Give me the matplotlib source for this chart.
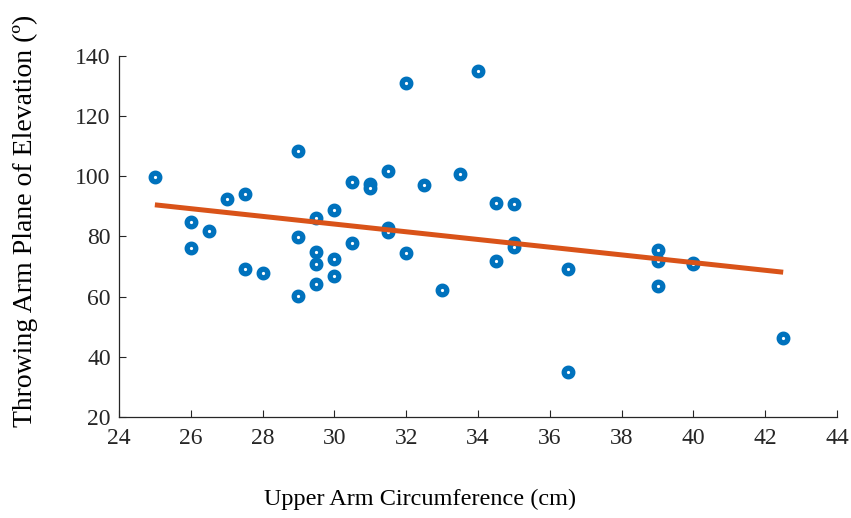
import numpy as np
import matplotlib
matplotlib.use("Agg")
import matplotlib.pyplot as plt

# Upper arm circumference (cm) and throwing-arm plane of elevation (deg)
circumference = [25.0, 26.0, 26.0, 26.5, 27.0, 27.5, 27.5, 28.0,
                 29.0, 29.0, 29.0, 29.5, 29.5, 29.5, 29.5,
                 30.0, 30.0, 30.0, 30.5, 30.5, 31.0, 31.0,
                 31.5, 31.5, 31.5, 32.0, 32.0, 32.5, 33.0, 33.5,
                 34.0, 34.5, 34.5, 35.0, 35.0, 35.0, 36.5, 36.5,
                 39.0, 39.0, 39.0, 40.0, 40.0, 42.5]
elevation = [99.6, 84.7, 76.1, 81.8, 92.4, 94.1, 69.3, 67.8,
             108.5, 79.9, 60.3, 86.3, 75.0, 70.9, 64.2,
             88.8, 72.4, 67.0, 98.2, 77.7, 97.4, 96.2,
             101.9, 82.8, 81.5, 130.9, 74.4, 97.1, 62.2, 100.8,
             135.1, 91.0, 71.9, 90.7, 77.8, 76.6, 69.1, 34.9,
             75.5, 71.9, 63.6, 71.3, 70.9, 46.2]

x_ticks = [24, 26, 28, 30, 32, 34, 36, 38, 40, 42, 44]
y_ticks = [20, 40, 60, 80, 100, 120, 140]

plt.rcParams["font.family"] = ["Liberation Serif", "DejaVu Serif"]

fig = plt.figure(figsize=(8.51, 5.18), dpi=100)
ax = fig.add_axes([0.1398, 0.195, 0.8438, 0.697])

axis_grey = "#262626"

x = np.asarray(circumference)
y = np.asarray(elevation)

ax.plot(x, y, linestyle="none", marker="o", markersize=6.2,
        markeredgewidth=3.8, markeredgecolor="#0072BD",
        markerfacecolor="white", zorder=2)

# least-squares trend line across the observed range
slope, intercept = np.polyfit(x, y, 1)
xf = np.array([x.min(), x.max()])
ax.plot(xf, slope * xf + intercept, color="#D95319", linewidth=3.6,
        solid_capstyle="butt", zorder=3)

ax.set_xlim(x_ticks[0], x_ticks[-1])
ax.set_ylim(y_ticks[0], y_ticks[-1])
ax.set_xticks(x_ticks)
ax.set_yticks(y_ticks)

for side in ("top", "right"):
    ax.spines[side].set_visible(False)
for side in ("left", "bottom"):
    ax.spines[side].set_color(axis_grey)
    ax.spines[side].set_linewidth(0.9)

ax.tick_params(direction="in", length=5, width=0.8, colors=axis_grey,
               labelsize=17, labelcolor=axis_grey)
ax.tick_params(axis="x", pad=8)
ax.tick_params(axis="y", pad=6)

fig.text(0.494, 0.035, "Upper Arm Circumference (cm)", fontsize=17.5,
         color="black", ha="center", va="center")
fig.text(0.030, 0.573, "Throwing Arm Plane of Elevation (º)", fontsize=20,
         color="black", ha="center", va="center", rotation=90)

fig.savefig("out.png", dpi=100, facecolor="white")
